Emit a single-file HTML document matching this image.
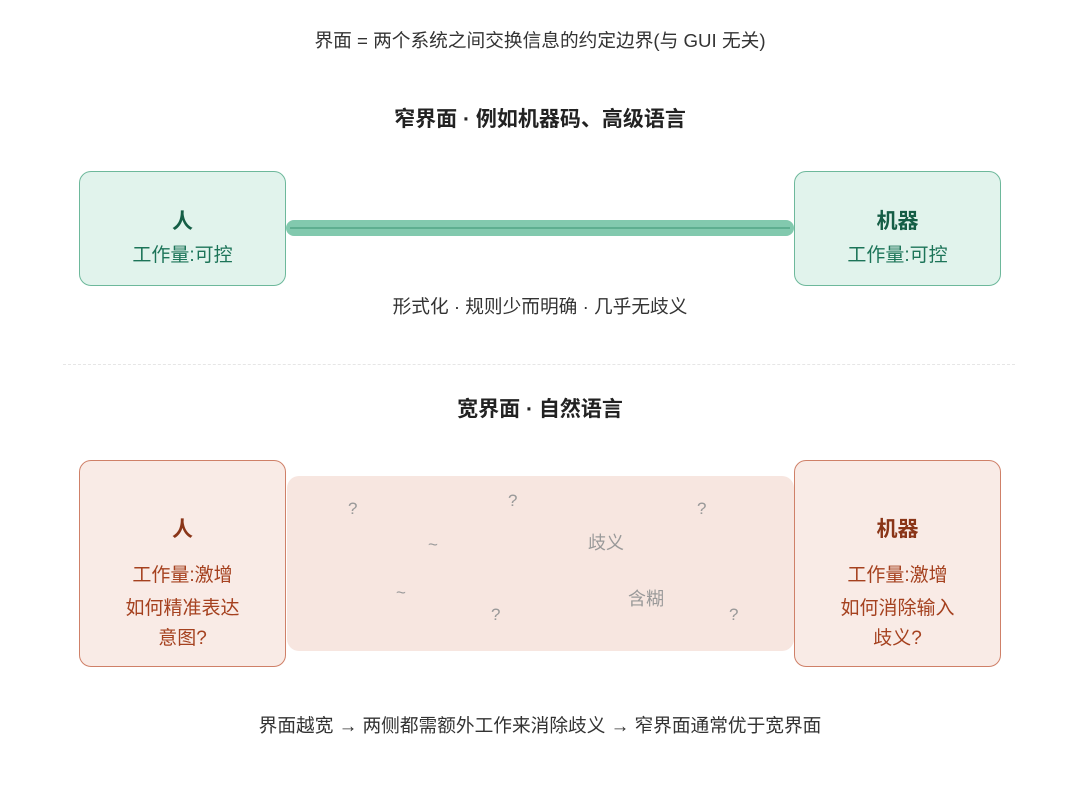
<!DOCTYPE html>
<html><head><meta charset="utf-8"><style>
body{margin:0;width:1080px;height:794px;background:#fff;position:relative;font-family:"Liberation Sans","Noto Sans CJK SC",sans-serif;overflow:hidden}
.t{position:absolute;left:0;width:1080px;text-align:center;color:#333}
.b{position:absolute;box-sizing:border-box;border-radius:12px;text-align:center}
.g{background:#e1f3ec;border:1.5px solid #6db89b;color:#1c7458}
.r{background:#f9ebe6;border:1.5px solid #cf8068;color:#a5411f}
.q{position:absolute;color:#999;font-size:17px}
</style></head><body>
<div class="t" style="top:26px;font-size:18.7px">界面 = 两个系统之间交换信息的约定边界(与 GUI 无关)</div>
<div class="t" style="top:103px;font-size:21px;font-weight:bold;color:#222">窄界面 · 例如机器码、高级语言</div>
<div class="b g" style="left:79px;top:171px;width:207px;height:115px"><div style="margin-top:33px;font-size:21px;font-weight:bold;color:#155e46">人</div><div style="margin-top:5px;font-size:19px">工作量:可控</div></div>
<div class="b g" style="left:794px;top:171px;width:207px;height:115px"><div style="margin-top:33px;font-size:21px;font-weight:bold;color:#155e46">机器</div><div style="margin-top:5px;font-size:19px">工作量:可控</div></div>
<div style="position:absolute;left:286px;top:220px;width:508px;height:16px;background:#82c9ae;border-radius:8px"></div>
<div style="position:absolute;left:290px;top:227px;width:500px;height:2px;background:#5eae90"></div>
<div class="t" style="top:292px;font-size:18.7px">形式化 · 规则少而明确 · 几乎无歧义</div>
<div style="position:absolute;left:63px;top:364px;width:952px;border-top:1.5px dashed #e6e6e6"></div>
<div class="t" style="top:393px;font-size:21px;font-weight:bold;color:#222">宽界面 · 自然语言</div>
<div style="position:absolute;left:287px;top:476px;width:507px;height:175px;background:#f7e6e0;border-radius:12px"></div>
<div class="q" style="left:348px;top:499px">?</div>
<div class="q" style="left:508px;top:491px">?</div>
<div class="q" style="left:697px;top:499px">?</div>
<div class="q" style="left:428px;top:535px">~</div>
<div class="q" style="left:396px;top:583px">~</div>
<div class="q" style="left:491px;top:605px">?</div>
<div class="q" style="left:729px;top:605px">?</div>
<div class="q" style="left:588px;top:529px;font-size:18px">歧义</div>
<div class="q" style="left:628px;top:585px;font-size:18px">含糊</div>
<div class="b r" style="left:79px;top:460px;width:207px;height:207px"><div style="margin-top:52px;font-size:21px;font-weight:bold;color:#8a3518">人</div><div style="margin-top:17px;font-size:19px">工作量:激增</div><div style="margin-top:7px;font-size:19px;line-height:30px">如何精准表达<br>意图?</div></div>
<div class="b r" style="left:794px;top:460px;width:207px;height:207px"><div style="margin-top:52px;font-size:21px;font-weight:bold;color:#8a3518">机器</div><div style="margin-top:17px;font-size:19px">工作量:激增</div><div style="margin-top:7px;font-size:19px;line-height:30px">如何消除输入<br>歧义?</div></div>
<div class="t" style="top:711px;font-size:18.7px">界面越宽 → 两侧都需额外工作来消除歧义 → 窄界面通常优于宽界面</div>
</body></html>
